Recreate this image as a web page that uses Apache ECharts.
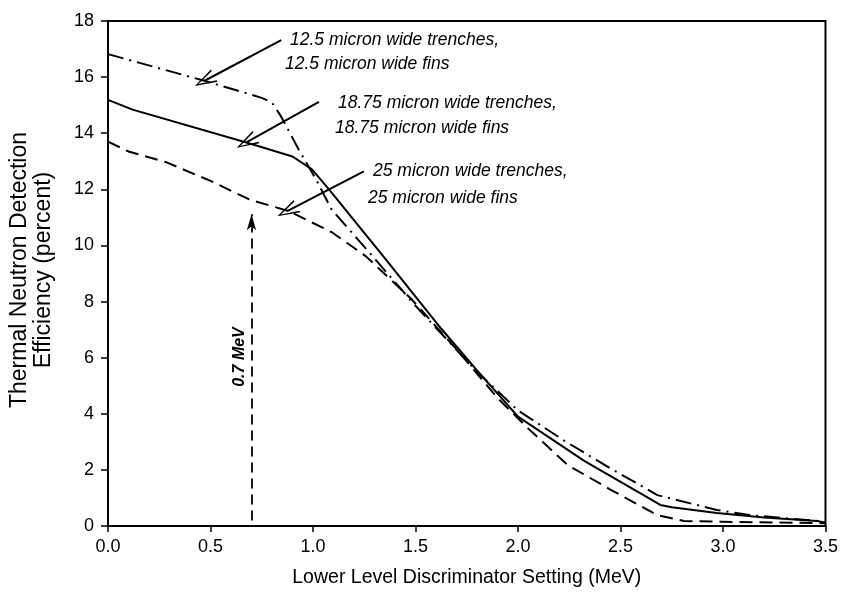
<!DOCTYPE html>
<html>
<head>
<meta charset="utf-8">
<script src="https://cdn.jsdelivr.net/npm/echarts@6/dist/echarts.min.js"></script>
<style>
  html, body { margin: 0; padding: 0; background: #fff; }
  #chart { width: 841px; height: 595px; }
</style>
</head>
<body>
<div id="chart"></div>
<script>
// 12.5 micron trenches / fins (dash-dot)
const x125 = [0, 0.47, 0.75, 0.80, 0.845, 0.93, 1.015, 1.09, 1.29, 1.5, 1.65, 1.8, 2.0, 2.23, 2.45, 2.68, 2.97, 3.13, 3.46, 3.5];
const y125 = [16.82, 15.87, 15.26, 15.09, 14.59, 13.42, 12.35, 11.29, 9.62, 7.85, 6.67, 5.5, 4.12, 3.02, 2.06, 1.10, 0.57, 0.39, 0.18, 0.12];
// 18.75 micron (solid)
const x1875 = [0, 0.12, 0.675, 0.9, 0.995, 1.078, 1.354, 1.626, 1.8, 2.0, 2.325, 2.6, 2.694, 2.75, 2.97, 3.2, 3.46, 3.5];
const y1875 = [15.19, 14.84, 13.67, 13.17, 12.71, 12.0, 9.51, 7.03, 5.55, 3.9, 2.31, 1.15, 0.75, 0.67, 0.46, 0.3, 0.18, 0.12];
// 25 micron (dashed)
const x25 = [0, 0.1, 0.286, 0.5, 0.689, 0.883, 1.092, 1.257, 1.48, 1.7, 1.903, 2.049, 2.243, 2.45, 2.68, 2.81, 3.0, 3.5];
const y25 = [13.7, 13.35, 12.96, 12.3, 11.64, 11.22, 10.47, 9.62, 8.09, 6.3, 4.54, 3.48, 2.17, 1.3, 0.39, 0.18, 0.15, 0.1];

const lldMarker = 0.7;

const pairs = (xs, ys) => xs.map((x, i) => [x, ys[i]]);
const chevron = 'path://M0,0 L7,22 L5.2,22 L0,4 L-5.2,22 L-7,22 Z';
const font = '"Liberation Sans", Arial, sans-serif';

const chart = echarts.init(document.getElementById('chart'));

const curve = (name, data, type) => ({
    name: name,
    type: 'line',
    data: data,
    symbol: 'none',
    smooth: false,
    lineStyle: { color: '#000', width: 2, type: type, join: 'round' },
    z: 3
});

const note = (text, x, y) => ({
    type: 'text', x: x, y: y,
    style: { text: text, font: 'italic 17.5px ' + font, fill: '#000', align: 'left', verticalAlign: 'middle' }
});

const options = {
    animation: false,
    backgroundColor: '#fff',
    grid: {
        left: 108, right: 15, top: 21, bottom: 69,
        show: true, borderColor: '#000', borderWidth: 2, backgroundColor: 'transparent'
    },
    xAxis: {
        type: 'value',
        min: 0, max: 3.5, interval: 0.5,
        name: 'Lower Level Discriminator Setting (MeV)',
        nameLocation: 'middle',
        nameGap: 42,
        nameTextStyle: { fontFamily: font, fontSize: 19.5, color: '#000' },
        axisLine: { lineStyle: { color: '#000', width: 2 } },
        axisTick: { show: true, inside: false, length: 6, lineStyle: { color: '#000', width: 1.5 } },
        axisLabel: { fontFamily: font, fontSize: 18, color: '#000', margin: 12,
            formatter: (v) => v.toFixed(1) },
        splitLine: { show: false }
    },
    yAxis: {
        type: 'value',
        min: 0, max: 18, interval: 2,
        axisLine: { show: true, lineStyle: { color: '#000', width: 2 } },
        axisTick: { show: true, inside: false, length: 7, lineStyle: { color: '#000', width: 1.5 } },
        axisLabel: { fontFamily: font, fontSize: 18, color: '#000', margin: 14 },
        splitLine: { show: false }
    },
    series: [
        curve('12.5 micron', pairs(x125, y125), [16, 6, 2, 6]),
        curve('18.75 micron', pairs(x1875, y1875), 'solid'),
        curve('25 micron', pairs(x25, y25), [13, 7]),
        {
            type: 'line',
            data: [],
            silent: true,
            markLine: {
                silent: true,
                animation: false,
                symbol: ['none', chevron],
                symbolSize: [14, 22],
                label: { show: false },
                lineStyle: { color: '#000', width: 2, type: 'solid' },
                data: [
                    [{ coord: [0.845, 17.32] }, { coord: [0.471, 15.87] }],
                    [{ coord: [1.029, 15.12] }, { coord: [0.675, 13.67] }],
                    [{ coord: [1.248, 12.64] }, { coord: [0.874, 11.22] }]
                ]
            }
        },
        {
            type: 'line',
            data: [],
            silent: true,
            markLine: {
                silent: true,
                animation: false,
                symbol: ['none', 'arrow'],
                symbolSize: [7, 16],
                label: { show: false },
                lineStyle: { color: '#000', width: 1.8, type: [10, 6] },
                data: [
                    [{ coord: [lldMarker, 0.2] }, { coord: [lldMarker, 11.11] }]
                ]
            }
        }
    ],
    graphic: [
        note('12.5 micron wide trenches,', 290, 40),
        note('12.5 micron wide fins', 285, 64),
        note('18.75 micron wide trenches,', 338, 103),
        note('18.75 micron wide fins', 335, 128),
        note('25 micron wide trenches,', 373, 171),
        note('25 micron wide fins', 368, 198),
        { type: 'text', x: 240, y: 357, rotation: Math.PI / 2,
          style: { text: '0.7 MeV', font: 'italic bold 16px ' + font, fill: '#000', align: 'center', verticalAlign: 'middle' } },
        { type: 'text', x: 32, y: 270, rotation: Math.PI / 2,
          style: { text: 'Thermal Neutron Detection\nEfficiency (percent)', font: '23px ' + font, lineHeight: 24,
                   fill: '#000', align: 'center', verticalAlign: 'middle' } }
    ]
};

chart.setOption(options);
</script>
</body>
</html>
